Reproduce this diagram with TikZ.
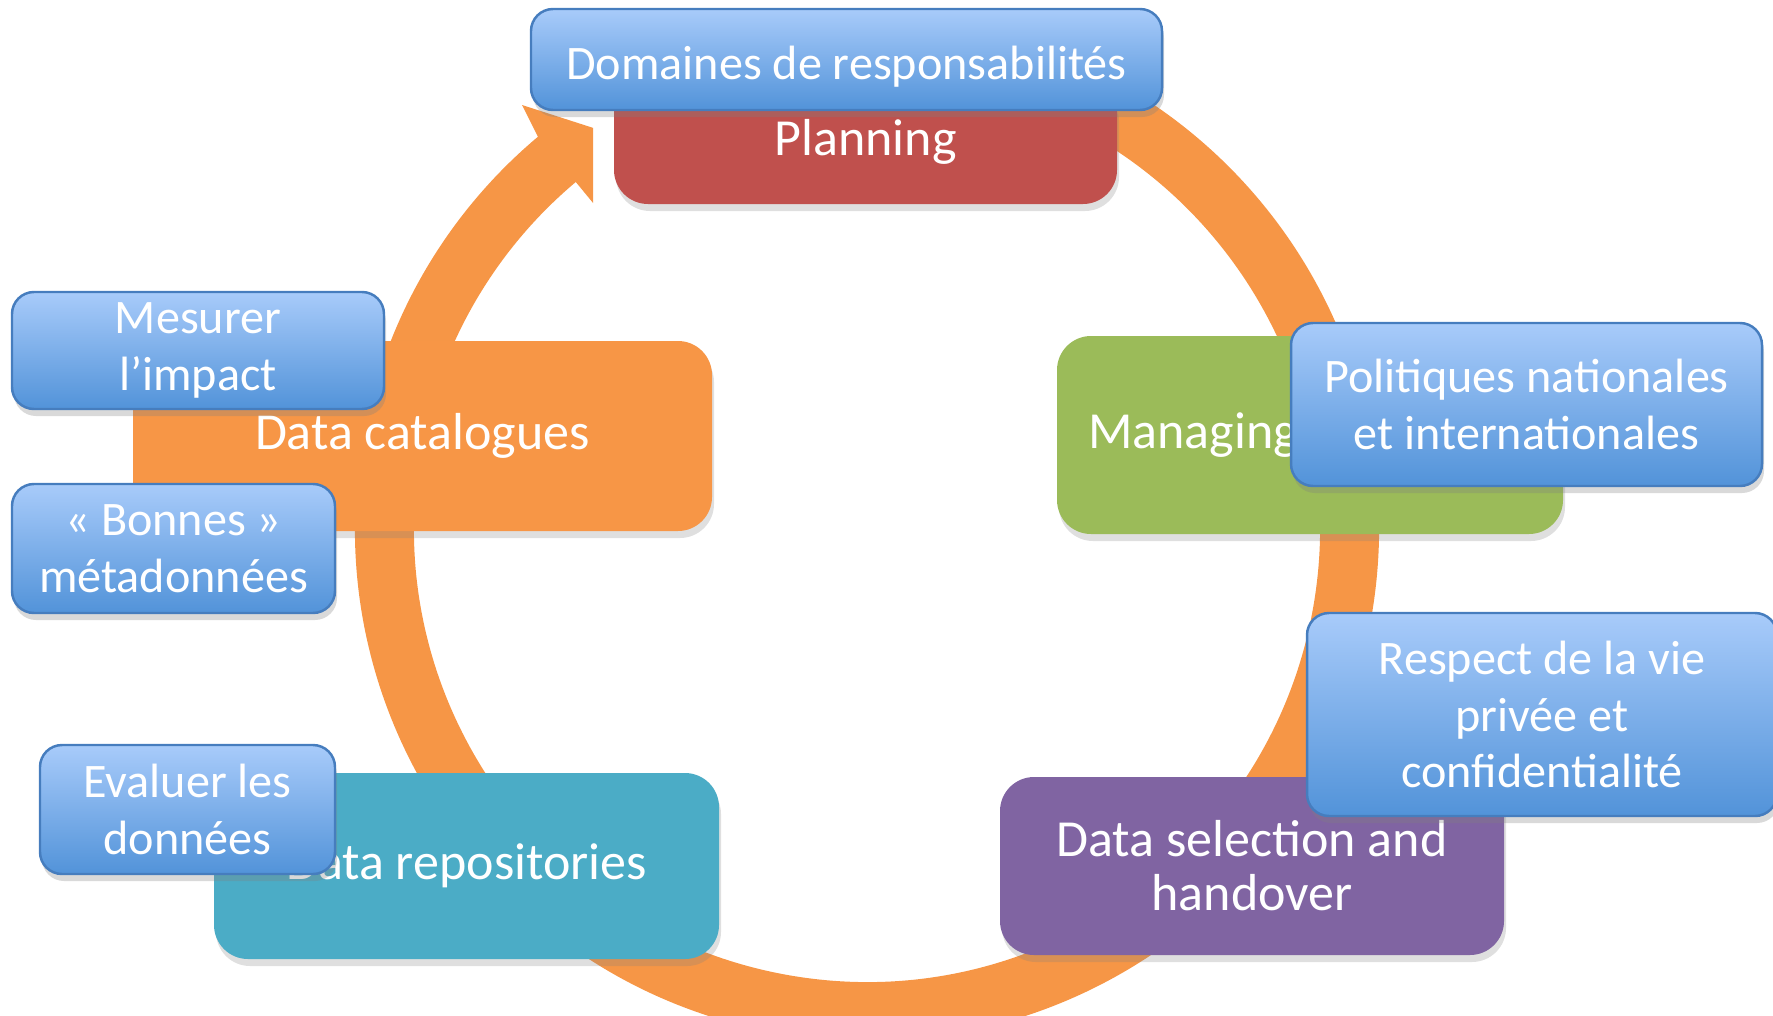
\documentclass[tikz,border=0pt]{standalone}
\usepackage{fontspec}
\setmainfont{Carlito}
\usetikzlibrary{shadows}

\definecolor{cycleorange}{RGB}{246,150,70}
\definecolor{planred}{RGB}{192,80,77}
\definecolor{catorange}{RGB}{247,150,70}
\definecolor{mangreen}{RGB}{155,187,89}
\definecolor{repoteal}{RGB}{75,172,198}
\definecolor{selpurple}{RGB}{128,100,162}
\definecolor{notetop}{RGB}{168,203,250}
\definecolor{notebottom}{RGB}{82,147,217}
\definecolor{noteline}{RGB}{70,125,190}

\tikzstyle{stagebox} = [rectangle, rounded corners=0.34cm, inner sep=0pt,
    text=white, align=center, font=\fontsize{14.8}{15.4}\selectfont,
    drop shadow={opacity=0.25, shadow xshift=0.02cm, shadow yshift=-0.07cm}]
\tikzstyle{notebox} = [rectangle, rounded corners=0.22cm, inner sep=0pt,
    draw=noteline, line width=0.7pt, top color=notetop, bottom color=notebottom,
    text=white, align=center, font=\fontsize{13.7}{16.1}\selectfont,
    drop shadow={opacity=0.3, shadow xshift=0.02cm, shadow yshift=-0.07cm}]

\begin{document}
\begin{tikzpicture}
    \useasboundingbox (0,0) rectangle (17.73,10.15);

    % the cycle ring and its head
    \coordinate (hub) at (8.67,4.86);
    \draw[cycleorange, line width=0.59cm] (hub) ++(80:4.825)
        arc[start angle=80, end angle=-231, radius=4.825];
    \begin{scope}
        \clip (0,0) rectangle (5.93,10.15);
        \fill[cycleorange] (5.379,8.782) -- (5.22,9.10) -- (6.40,8.72)
            -- (5.98,8.06) -- (5.758,8.330) -- cycle;
    \end{scope}

    % stages
    \node[stagebox, fill=planred, minimum width=5.03cm, minimum height=1.24cm]
        (plan) at (8.655,8.73) {Planning};
    \node[stagebox, fill=catorange, minimum width=5.79cm, minimum height=1.90cm]
        (cat) at (4.225,5.79) {Data catalogues};
    \node[stagebox, fill=mangreen, minimum width=5.06cm, minimum height=1.98cm,
        inner xsep=0.31cm, text width=4.44cm, align=left]
        (man) at (13.10,5.80) {Managing};
    \node[stagebox, fill=selpurple, minimum width=5.04cm, minimum height=1.78cm]
        (sel) at (12.52,1.49) {Data selection and\\handover};
    \node[stagebox, fill=repoteal, minimum width=5.05cm, minimum height=1.86cm]
        (repo) at (4.665,1.49) {Data repositories};

    % notes on top
    \node[notebox, minimum width=6.31cm, minimum height=1.01cm,
        text height=0.49cm, text depth=0.10cm]
        (dom) at (8.465,9.555) {Domaines de responsabilités};
    \node[notebox, minimum width=3.72cm, minimum height=1.17cm]
        (mes) at (1.98,6.645) {Mesurer\\l’impact};
    \node[notebox, minimum width=3.23cm, minimum height=1.29cm]
        (bon) at (1.735,4.665) {« Bonnes »\\métadonnées};
    \node[notebox, minimum width=4.71cm, minimum height=1.63cm]
        (pol) at (15.265,6.105) {Politiques nationales\\et internationales};
    \node[notebox, minimum width=4.70cm, minimum height=2.03cm]
        (res) at (15.42,3.005) {Respect de la vie\\privée et\\confidentialité};
    \node[notebox, minimum width=2.95cm, minimum height=1.29cm]
        (eva) at (1.875,2.055) {Evaluer les\\données};
\end{tikzpicture}
\end{document}
